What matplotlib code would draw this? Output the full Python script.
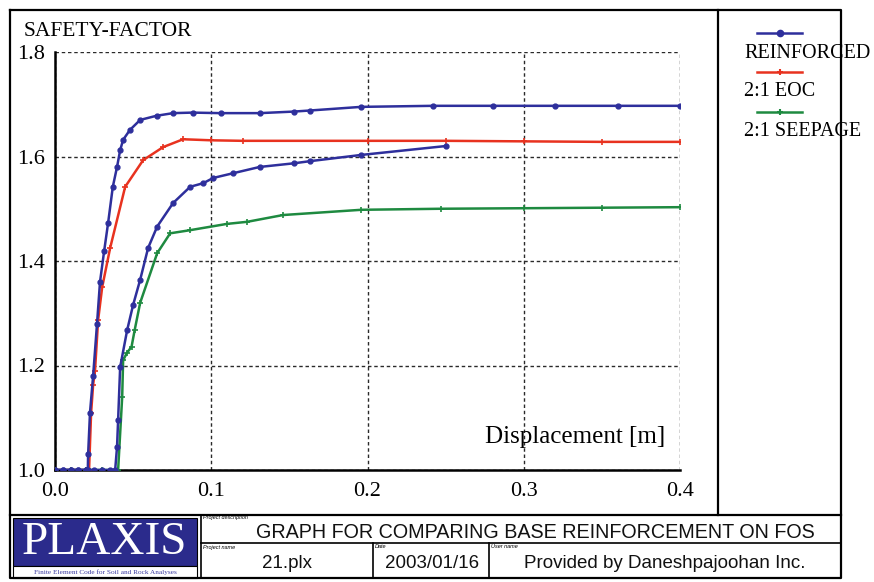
import matplotlib
matplotlib.use("Agg")
import matplotlib.pyplot as plt
from matplotlib.patches import Rectangle

# ---- data (displacement [m], safety factor) ----
reinf_x = [0.0, 0.005, 0.01, 0.015, 0.02, 0.021, 0.0212, 0.0224, 0.0244, 0.0269, 0.0288,
           0.0315, 0.034, 0.037, 0.0397, 0.0417, 0.0436, 0.048, 0.0545, 0.065, 0.0756,
           0.088, 0.106, 0.131, 0.153, 0.163, 0.196, 0.242, 0.28, 0.32, 0.36, 0.4]
reinf_y = [1.0, 1.0, 1.0, 1.0, 1.0, 1.0, 1.03, 1.11, 1.18, 1.28, 1.36,
           1.42, 1.473, 1.542, 1.58, 1.612, 1.632, 1.651, 1.67, 1.678, 1.683,
           1.684, 1.683, 1.683, 1.686, 1.688, 1.695, 1.697, 1.697, 1.697, 1.697, 1.697]

reinf2_x = [0.0, 0.005, 0.01, 0.015, 0.02, 0.025, 0.03, 0.035, 0.0385, 0.0397, 0.0404,
            0.0417, 0.0462, 0.05, 0.0545, 0.0596, 0.0654, 0.0756, 0.0865, 0.0949, 0.1013,
            0.114, 0.131, 0.153, 0.163, 0.196, 0.25]
reinf2_y = [1.0, 1.0, 1.0, 1.0, 1.0, 1.0, 1.0, 1.0, 1.0, 1.044, 1.096,
            1.197, 1.268, 1.316, 1.364, 1.425, 1.466, 1.511, 1.542, 1.549, 1.559,
            1.568, 1.58, 1.587, 1.591, 1.603, 1.62]

eoc_x = [0.0, 0.01, 0.02, 0.0218, 0.0231, 0.0244, 0.0256, 0.0276, 0.0302, 0.0353,
         0.0449, 0.0564, 0.0692, 0.082, 0.1, 0.12, 0.2, 0.25, 0.3, 0.35, 0.4]
eoc_y = [1.0, 1.0, 1.0, 1.0, 1.109, 1.163, 1.19, 1.287, 1.35, 1.425,
         1.542, 1.593, 1.618, 1.633, 1.631, 1.63, 1.63, 1.63, 1.629, 1.628, 1.628]

seep_x = [0.0, 0.01, 0.02, 0.03, 0.0404, 0.043, 0.0436, 0.046, 0.049, 0.051, 0.0545,
          0.0654, 0.0737, 0.0865, 0.11, 0.123, 0.146, 0.196, 0.247, 0.3, 0.35, 0.4]
seep_y = [1.0, 1.0, 1.0, 1.0, 1.0, 1.14, 1.21, 1.224, 1.236, 1.268, 1.32,
          1.415, 1.453, 1.459, 1.471, 1.475, 1.488, 1.498, 1.5, 1.501, 1.502, 1.503]

x_ticks = [0.0, 0.1, 0.2, 0.3, 0.4]
x_labels = ["0.0", "0.1", "0.2", "0.3", "0.4"]
y_ticks = [1.0, 1.2, 1.4, 1.6, 1.8]
y_labels = ["1.0", "1.2", "1.4", "1.6", "1.8"]

series_names = ["REINFORCED", "2:1 EOC", "2:1 SEEPAGE"]
blue, red, green = "#2e2f9c", "#e8321f", "#1e8a40"

serif = "Liberation Serif"
sans = "Liberation Sans"

W, H = 874, 582
fig = plt.figure(figsize=(W / 100, H / 100), dpi=100)

# overlay in pixel coordinates for frame, legend and title block
ov = fig.add_axes([0, 0, 1, 1])
ov.set_xlim(0, W)
ov.set_ylim(H, 0)
ov.axis("off")

ax = fig.add_axes([55 / W, (H - 470) / H, 625 / W, 418 / H])
ax.set_xlim(0, 0.4)
ax.set_ylim(1.0, 1.8)
ax.set_facecolor("none")
ax.plot(reinf_x, reinf_y, color=blue, lw=1.8, marker="o", ms=3.5, zorder=4)
ax.plot(reinf2_x, reinf2_y, color=blue, lw=1.8, marker="o", ms=3.5, zorder=4)
ax.plot(eoc_x, eoc_y, color=red, lw=1.8, marker="+", ms=4, mew=1.2, zorder=3)
ax.plot(seep_x, seep_y, color=green, lw=1.8, marker="+", ms=4, mew=1.2, zorder=3)

ax.set_xticks(x_ticks)
ax.set_xticklabels(x_labels, fontfamily=serif, fontsize=16)
ax.set_yticks(y_ticks)
ax.set_yticklabels(y_labels, fontfamily=serif, fontsize=16)
ax.tick_params(length=0, pad=7)
ax.tick_params(axis="x", pad=9)
ax.grid(True, color="#2a2a2a", ls=(0, (2.5, 2)), lw=1.0)
for s in ["top", "right"]:
    ax.spines[s].set_visible(False)
for s in ["left", "bottom"]:
    ax.spines[s].set_linewidth(1.8)
ax.text(0.275, 1.064, "Displacement [m]", fontfamily=serif, fontsize=18,
        ha="left", va="center")

ov.text(24, 32, "SAFETY-FACTOR", fontfamily=serif, fontsize=15.5, ha="left", va="center")

# frame
lw = 1.6
ov.plot([10, 841, 841, 10, 10], [10, 10, 578, 578, 10], color="black", lw=lw)
ov.plot([718, 718], [10, 515], color="black", lw=lw)
ov.plot([10, 841], [515, 515], color="black", lw=lw)

# legend (marker above the name)
for name, col, mk, ly in zip(series_names, [blue, red, green], ["o", "+", "+"], [33, 72, 112]):
    ov.plot([757, 802], [ly, ly], color=col, lw=1.8)
    ov.plot([779.5], [ly], color=col, marker=mk, ms=4, mew=1.5)
    ov.text(744, ly + 20, name, fontfamily=serif, fontsize=14.5, ha="left", va="center")

# title block
ov.add_patch(Rectangle((13, 518), 184, 48, facecolor="#2b2b8c", edgecolor="black", lw=0.8))
ov.add_patch(Rectangle((13, 566), 184, 12, facecolor="white", edgecolor="black", lw=0.8))
ov.text(104, 543, "PLAXIS", fontfamily=serif, fontsize=34, color="white",
        ha="center", va="center")
ov.text(105, 572, "Finite Element Code for Soil and Rock Analyses", fontfamily=serif,
        fontsize=5.2, color="#3a3aa0", ha="center", va="center")

ov.plot([201, 841], [543, 543], color="black", lw=1.2)
ov.plot([201, 201], [515, 578], color="black", lw=1.2)
ov.plot([373, 373], [543, 578], color="black", lw=1.2)
ov.plot([489, 489], [543, 578], color="black", lw=1.2)

ov.text(203, 518, "Project description", fontfamily=sans, fontsize=4, style="italic",
        ha="left", va="center")
ov.text(535, 532, "GRAPH FOR COMPARING BASE REINFORCEMENT ON FOS", fontfamily=sans,
        fontsize=14.2, ha="center", va="center", color="#111111")
ov.text(203, 547, "Project name", fontfamily=sans, fontsize=4, style="italic",
        ha="left", va="center")
ov.text(287, 564, "21.plx", fontfamily=sans, fontsize=13.5, ha="center", va="center",
        color="#111111")
ov.text(375, 547, "Date", fontfamily=sans, fontsize=4, style="italic",
        ha="left", va="center")
ov.text(432, 564, "2003/01/16", fontfamily=sans, fontsize=13.5, ha="center", va="center",
        color="#111111")
ov.text(491, 547, "User name", fontfamily=sans, fontsize=4, style="italic",
        ha="left", va="center")
ov.text(665, 564, "Provided by Daneshpajoohan Inc.", fontfamily=sans, fontsize=13.5,
        ha="center", va="center", color="#111111")

fig.savefig("out.png", dpi=100)
